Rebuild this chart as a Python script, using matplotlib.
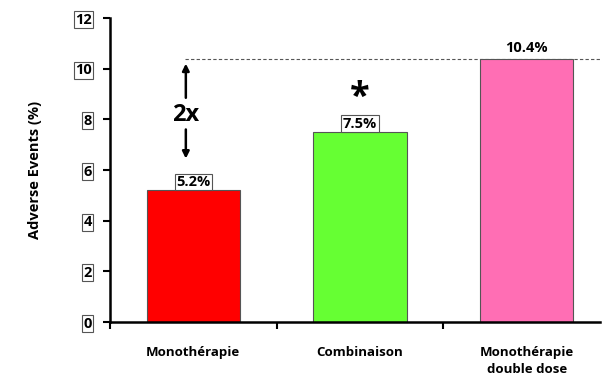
import matplotlib
matplotlib.use("Agg")
import matplotlib.pyplot as plt
from matplotlib.ticker import FixedLocator

categories = ["Monothérapie", "Combinaison", "Monothérapie\ndouble dose"]
values = [5.2, 7.5, 10.4]
colors = ["#FF0000", "#66FF33", "#FF6EB4"]
value_labels = ["5.2%", "7.5%", "10.4%"]
yticks = [0, 2, 4, 6, 8, 10, 12]

plt.rcParams['font.family'] = ['Open Sans', 'DejaVu Sans']

fig = plt.figure(figsize=(6.06, 3.84), dpi=100)
ax = fig.add_axes([110/606, 1-322/384, 490/606, (322-18)/384])

x = list(range(len(categories)))
ax.bar(x, values, width=0.56, color=colors, edgecolor="#555555", linewidth=0.8, zorder=2)

ax.set_xlim(-0.5, 2.44)
ax.set_ylim(0, 12)
ax.spines['top'].set_visible(False)
ax.spines['right'].set_visible(False)
ax.spines['left'].set_linewidth(1.8)
ax.spines['bottom'].set_linewidth(1.8)

ax.set_yticks(yticks)
ax.set_yticklabels([str(t) for t in yticks], fontsize=10.5, fontweight='bold')
for lbl in ax.get_yticklabels():
    lbl.set_bbox(dict(boxstyle='square,pad=0.1', facecolor='white', edgecolor='#555555', linewidth=0.8))
ax.tick_params(axis='y', direction='out', length=5, width=1.5, pad=8)

ax.set_xticks(x)
ax.set_xticklabels(categories, fontsize=9.5, fontweight='bold', linespacing=1.4)
ax.tick_params(axis='x', which='major', length=0, pad=17)
ax.xaxis.set_minor_locator(FixedLocator([-0.5, 0.5, 1.5]))
ax.tick_params(axis='x', which='minor', direction='out', length=5, width=1.5)

ax.set_ylabel("Adverse Events (%)", fontsize=10.5, fontweight='bold', labelpad=24)

# value labels
for i, (v, t) in enumerate(zip(values, value_labels)):
    if i < 2:
        ax.text(i, v + 0.05, t, ha='center', va='bottom', fontsize=10.5, fontweight='bold',
                bbox=dict(boxstyle='square,pad=0.1', facecolor='white', edgecolor='#555555', linewidth=0.8), zorder=3)
    else:
        ax.text(i, v + 0.15, t, ha='center', va='bottom', fontsize=10.5, fontweight='bold', zorder=3)

# dashed reference line
ax.plot([-0.05, 2.44], [values[2], values[2]], linestyle=(0, (3, 2)), color='#555555', linewidth=0.8, zorder=1)

# arrows and 2x
ax.annotate("", xy=(-0.045, 10.2), xytext=(-0.045, 8.85),
            arrowprops=dict(arrowstyle='-|>', color='black', lw=1.8, mutation_scale=10, shrinkA=0, shrinkB=0))
ax.annotate("", xy=(-0.045, 6.45), xytext=(-0.045, 7.6),
            arrowprops=dict(arrowstyle='-|>', color='black', lw=1.8, mutation_scale=10, shrinkA=0, shrinkB=0))
ax.text(-0.045, 8.17, "2x", ha='center', va='center', fontsize=17, fontweight='bold')

# star
ax.text(1, 8.85, "*", ha='center', va='center', fontsize=26, fontweight='bold')

fig.savefig("out.png", dpi=100)
